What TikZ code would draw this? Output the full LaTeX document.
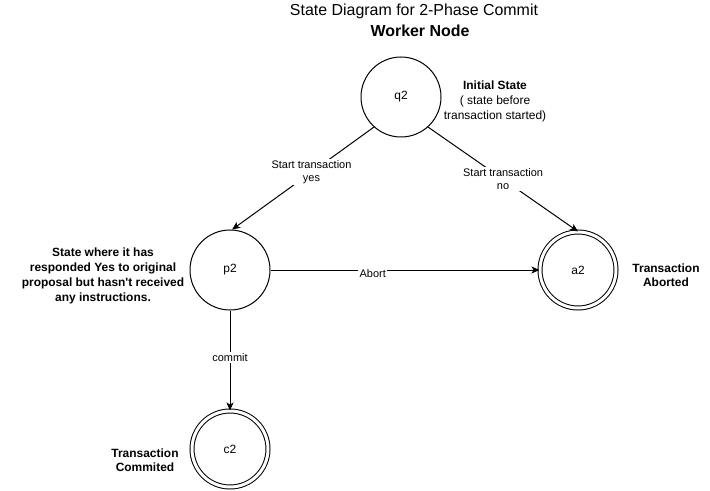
\documentclass[tikz,border=0pt]{standalone}
\usepackage{fontspec}
\setmainfont{Liberation Sans}
\usetikzlibrary{arrows.meta}

\begin{document}
\begin{tikzpicture}[x=1bp,y=-1bp,
    line width=1bp,
    >={Stealth[length=8bp,width=7bp,inset=2bp]},
    state/.style={circle,draw,minimum size=80bp,inner sep=0pt,
        font=\fontsize{12}{14}\selectfont},
    accept/.style={state,double,double distance=3bp,minimum size=76bp},
    note/.style={align=center,font=\fontsize{12}{15}\selectfont\bfseries},
    edgelabel/.style={fill=white,inner sep=1.5bp,align=center,
        font=\fontsize{11}{13}\selectfont}]

\useasboundingbox (0,0) rectangle (710,491);

% title
\node (title) at (414,11) {\fontsize{16}{18}\selectfont State Diagram for 2-Phase Commit};
\node (worker) at (420,31) {\fontsize{16}{18}\selectfont\bfseries Worker Node};

% states
\node[state] (q2) at (401,97) {q2};
\node[state] (p2) at (230,270) {p2};
\node[accept] (a2) at (578,270) {a2};
\node[accept] (c2) at (230,449) {c2};

% notes
\node[note] (initial) at (495,101)
    {Initial State\\\mdseries ( state before\\\mdseries transaction started)};
\node[note] (waiting) at (103,276)
    {State where it has\\responded Yes to original\\proposal but hasn\textquotesingle t received\\any instructions.};
\node[note,font=\fontsize{12}{14}\selectfont\bfseries] (aborted) at (666,275)
    {Transaction\\Aborted};
\node[note,font=\fontsize{12}{14}\selectfont\bfseries] (commited) at (145,460)
    {Transaction\\Commited};

% transitions
\draw[->] (q2.228) -- (p2.87)
    node[edgelabel,pos=0.44] {Start transaction\\yes};
\draw[->] (q2.312) -- (a2.north)
    node[edgelabel,pos=0.5] {Start transaction\\no};
\draw[->] (p2) -- (a2)
    node[edgelabel,pos=0.38,yshift=-4bp] {Abort};
\draw[->] (p2) -- (c2)
    node[edgelabel,pos=0.47] {commit};

\end{tikzpicture}
\end{document}
